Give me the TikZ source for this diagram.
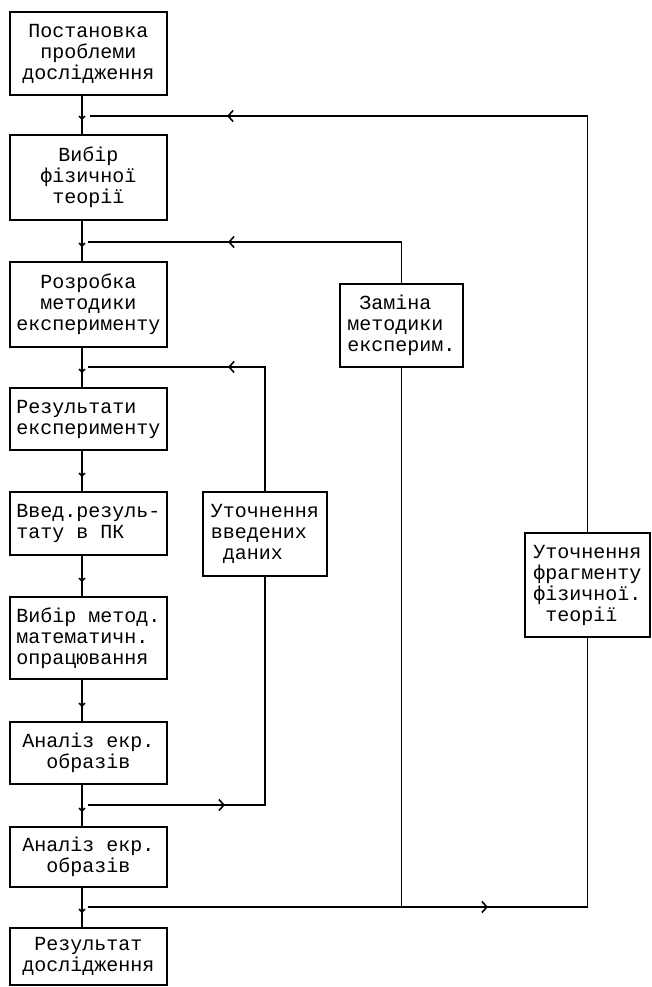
\documentclass[tikz,border=0pt]{standalone}
\usepackage{fontspec}
\setmainfont{Liberation Mono}
\usetikzlibrary{arrows.meta, decorations.markings}

\newcommand{\tsp}{\hspace*{0.6em}}

\begin{document}
\begin{tikzpicture}[x=1pt, y=-1pt, font=\fontsize{20}{21}\selectfont,
    lin/.style={line width=1.6pt},
    blok/.style={draw, line width=1.6pt, align=center, inner sep=2pt},
    lbox/.style={blok, minimum width=157pt},
    down/.style={lin, postaction={decorate}, decoration={markings,
      mark=at position -14pt with {\arrow{Straight Barb[length=3pt, width=6pt]}}}},
    chev/.style={lin, postaction={decorate}, decoration={markings,
      mark=at position #1 with {\arrow{Straight Barb[length=5pt, width=11pt]}}}}]
    \useasboundingbox (0,0) rectangle (651,987);
    % ---------------- main column
    \node[lbox, minimum height=83pt] (b1) at (88.5,53.5) {Постановка\\проблеми\\дослідження};
    \node[lbox, minimum height=85pt] (b2) at (88.5,177.5) {Вибір\\фізичної\\теорії};
    \node[lbox, minimum height=85pt] (b3) at (88.5,304.5) {Розробка\\методики\\експерименту};
    \node[lbox, minimum height=62pt, align=left] (b4) at (88.5,419) {Результати\\експерименту};
    \node[lbox, minimum height=63pt, align=left] (b5) at (88.5,523.5) {Введ.резуль-\\тату в ПК};
    \node[lbox, minimum height=82pt, align=left] (b6) at (88.5,638) {Вибір метод.\\математичн.\\опрацювання};
    \node[lbox, minimum height=62pt] (b7) at (88.5,753) {Аналіз екр.\\образів};
    \node[lbox, minimum height=60pt] (b8) at (88.5,857) {Аналіз екр.\\образів};
    \node[lbox, minimum height=57pt] (b9) at (88.5,956.5) {Результат\\дослідження};
    \foreach \a/\b in {b1/b2, b2/b3, b3/b4, b4/b5, b5/b6, b6/b7, b7/b8, b8/b9}
      \draw[down] ([xshift=-6.5pt]\a.south) -- ([xshift=-6.5pt]\b.north);
    % ---------------- correction boxes
    \node[blok, minimum width=124pt, minimum height=84pt, align=left] (r1) at (265,534) {Уточнення\\введених\\\tsp даних};
    \node[blok, minimum width=123pt, minimum height=83pt, align=left] (r2) at (401.5,325.5) {\tsp Заміна\\методики\\експерим.};
    \node[blok, minimum width=125pt, minimum height=104pt, align=left] (r3) at (587.5,585) {Уточнення\\фрагменту\\фізичної.\\\tsp теорії};
    % ---------------- feedback and forward lines
    \coordinate (v1) at (90,116);
    \coordinate (v2) at (88,242);
    \coordinate (v3) at (88,367);
    \coordinate (u1) at (88,805);
    \coordinate (u2) at (88,907);
    \draw[chev=-137pt] (r3.north) |- (v1);
    \draw[chev=-140pt] (r2.north) |- (v2);
    \draw[chev=-140pt] (r1.north) |- (v3);
    \draw[chev=137pt] (u1) -| (r1.south);
    \draw[chev=400pt] (u2) -| (r3.south);
    \draw[lin] (r2.south) -- (r2.south |- u2);
\end{tikzpicture}
\end{document}
